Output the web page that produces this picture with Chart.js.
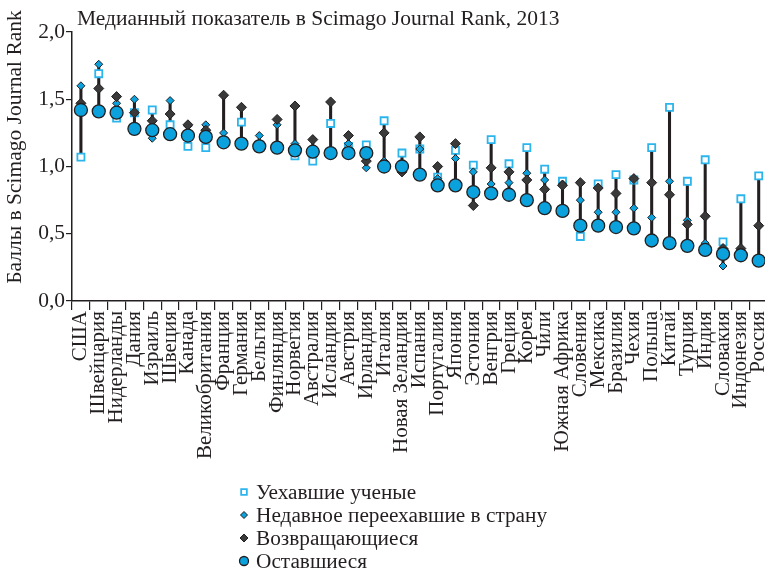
<!DOCTYPE html>
<html><head><meta charset="utf-8">
<script src="https://cdn.jsdelivr.net/npm/chart.js@4"></script>
<style>html,body{margin:0;padding:0;overflow:hidden;background:#fff;} #wrap{width:785px;height:568px;}</style>
</head><body><div id="wrap"><canvas id="c" width="785" height="568"></canvas></div>
<script>
const titleText = 'Медианный показатель в Scimago Journal Rank, 2013';
const yTitle = 'Баллы в Scimago Journal Rank';
const countries = ['США','Швейцария','Нидерланды','Дания','Израиль','Швеция','Канада','Великобритания','Франция','Германия','Бельгия','Финляндия','Норвегия','Австралия','Исландия','Австрия','Ирландия','Италия','Новая Зеландия','Испания','Португалия','Япония','Эстония','Венгрия','Греция','Корея','Чили','Южная Африка','Словения','Мексика','Бразилия','Чехия','Польша','Китай','Турция','Индия','Словакия','Индонезия','Россия'];
const seriesNames = ['Уехавшие ученые','Недавное переехавшие в страну','Возвращающиеся','Оставшиеся'];
const emigrants = [1.07,1.69,1.36,1.40,1.42,1.31,1.15,1.14,1.19,1.33,1.16,1.14,1.08,1.04,1.32,1.15,1.16,1.34,1.10,1.13,0.92,1.12,1.01,1.20,1.02,1.14,0.98,0.89,0.48,0.87,0.94,0.90,1.14,1.44,0.89,1.05,0.44,0.76,0.93];
const recentArrivals = [1.60,1.76,1.47,1.50,1.21,1.49,1.30,1.31,1.25,1.17,1.23,1.31,1.17,1.12,1.11,1.17,0.99,1.04,0.99,1.13,0.91,1.06,0.96,0.87,0.88,0.95,0.90,0.87,0.75,0.66,0.66,0.69,0.62,0.89,0.60,0.43,0.26,0.38,0.31];
const returnees = [1.47,1.58,1.52,1.40,1.34,1.39,1.31,1.27,1.53,1.44,1.15,1.35,1.45,1.20,1.48,1.23,1.04,1.25,0.96,1.22,1.00,1.17,0.71,0.99,0.96,0.90,0.83,0.86,0.88,0.84,0.80,0.91,0.88,0.79,0.57,0.63,0.39,0.39,0.56];
const stayers = [1.42,1.41,1.40,1.28,1.27,1.24,1.23,1.22,1.18,1.17,1.15,1.14,1.12,1.11,1.10,1.10,1.10,1.00,1.00,0.94,0.86,0.86,0.81,0.80,0.79,0.75,0.69,0.67,0.56,0.56,0.55,0.54,0.45,0.43,0.41,0.38,0.35,0.34,0.30];
const yMin = 0, yMax = 2, yStep = 0.5;

const ranges = countries.map((_, i) => {
  const v = [emigrants[i], recentArrivals[i], returnees[i], stayers[i]];
  return [Math.min(...v), Math.max(...v)];
});

const INK = '#231f20';
const BLUE = '#0aa1dd';
const LIGHT = '#2cb5ec';
const SERIF = '"Liberation Serif", "Times New Roman", serif';

const styles = [
  {pointStyle:'rect', radius:5, bg:'#ffffff', border:LIGHT, bw:1.8, legendR:4},
  {pointStyle:'rectRot', radius:4, bg:BLUE, border:INK, bw:1, legendR:3.5},
  {pointStyle:'rectRot', radius:5, bg:'#3a3a3a', border:INK, bw:1, legendR:4},
  {pointStyle:'circle', radius:6.5, bg:BLUE, border:INK, bw:1.3, legendR:4.5}
];
const seriesData = [emigrants, recentArrivals, returnees, stayers];

const pointSets = seriesData.map((d, k) => ({
  type:'line', label: seriesNames[k], data: d, showLine:false,
  pointStyle: styles[k].pointStyle, pointRadius: styles[k].radius,
  pointBackgroundColor: styles[k].bg, pointBorderColor: styles[k].border,
  pointBorderWidth: styles[k].bw, order: 4 - k
}));

const textPlugin = {
  id:'texts',
  afterDraw(chart){
    const ctx = chart.ctx;
    ctx.save();
    ctx.fillStyle = INK;
    ctx.font = '21.5px ' + SERIF;
    ctx.textBaseline = 'middle';
    ctx.textAlign = 'left';
    ctx.fillText(titleText, 77, 19);
    ctx.save();
    ctx.translate(15, 147);
    ctx.rotate(-Math.PI/2);
    ctx.textAlign = 'center';
    ctx.fillText(yTitle, 0, 0);
    ctx.restore();
    // legend
    const rows = [492, 515, 538, 561];
    ctx.font = '21.3px ' + SERIF;
    for (let k = 0; k < 4; k++) {
      const s = styles[k];
      ctx.fillStyle = s.bg; ctx.strokeStyle = s.border; ctx.lineWidth = s.bw;
      Chart.helpers.drawPoint(ctx, {pointStyle:s.pointStyle, radius:s.legendR, borderWidth:s.bw, rotation:0}, 244, rows[k]);
      ctx.fillStyle = INK;
      ctx.fillText(seriesNames[k], 256, rows[k] + 1);
    }
    ctx.restore();
  }
};

new Chart(document.getElementById('c'), {
  type:'bar',
  data:{
    labels: countries,
    datasets:[
      {type:'bar', label:'range', data: ranges, backgroundColor: INK, barThickness:2.4, order:10},
      ...pointSets
    ]
  },
  options:{
    responsive:false, animation:false,
    layout:{padding:{top:32, bottom:87, left:0, right:0}},
    plugins:{legend:{display:false}, tooltip:{enabled:false}, title:{display:false}},
    scales:{
      x:{
        type:'category', offset:true,
        afterFit(s){ s.height = 180; },
        grid:{display:true, drawOnChartArea:false, offset:true, tickLength:9, color:INK, lineWidth:1.2},
        border:{display:true, color:INK, width:1.5},
        ticks:{autoSkip:false, maxRotation:90, minRotation:90, padding:1, color:INK, font:{family:SERIF, size:21}}
      },
      y:{
        min:yMin, max:yMax,
        afterFit(s){ s.width = 72; },
        grid:{display:true, drawOnChartArea:false, tickLength:6, color:INK, lineWidth:1.2},
        border:{display:true, color:INK, width:1.5},
        ticks:{stepSize:yStep, padding:1, color:INK, font:{family:SERIF, size:21.5},
          callback:(v)=> Number(v).toFixed(1).replace('.', ',')}
      }
    }
  },
  plugins:[textPlugin]
});
</script></body></html>
